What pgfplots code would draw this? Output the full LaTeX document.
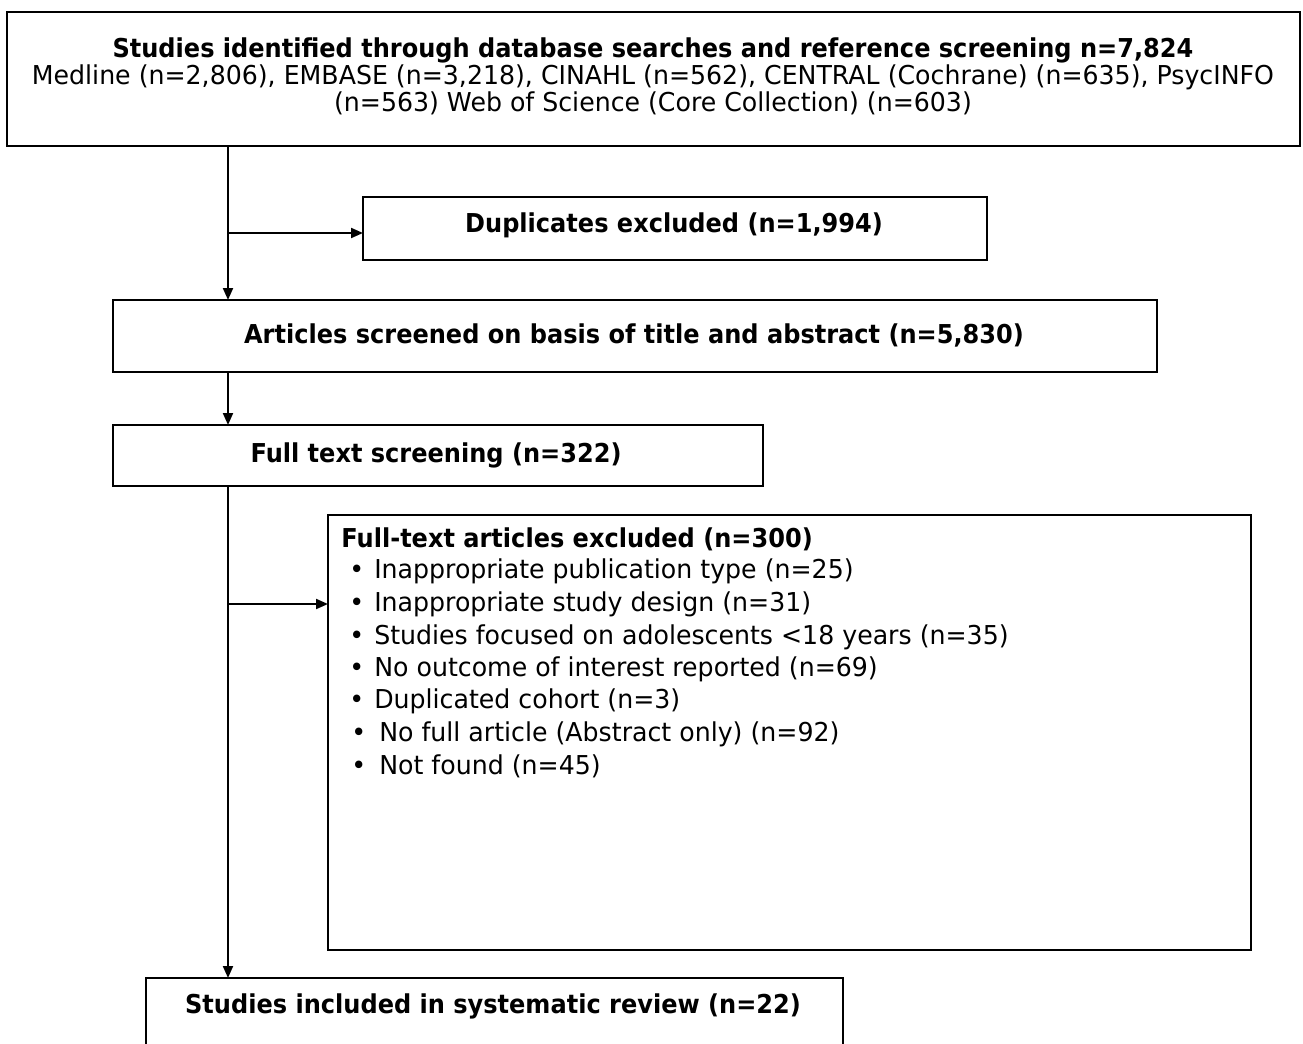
\documentclass[border=0pt]{standalone}
\usepackage{pgfplots}
\pgfplotsset{compat=1.18}
\usepackage{fontspec}
\setmainfont{DejaVu Sans}[FakeStretch=0.97, BoldFeatures={FakeStretch=0.925}]
\usetikzlibrary{arrows.meta}
\begin{document}
\begin{tikzpicture}
\begin{axis}[hide axis, scale only axis, width=651.5pt, height=522pt,
  xmin=0, xmax=1303, ymin=0, ymax=1044, y dir=reverse, clip=true]
\addplot[draw=none] coordinates {(0,0) (1303,1044)};
\tikzset{box/.style={draw=black, line width=1.3pt},
  conn/.style={draw=black, line width=1pt},
  arr/.style={conn, -{Triangle[length=6pt,width=5pt]}},
  txt/.style={inner sep=0pt, font=\fontsize{13}{13.5}\selectfont}}
% boxes
\draw[box] (axis cs:7,12) rectangle (axis cs:1300,146);
\draw[box] (axis cs:363,197) rectangle (axis cs:987,260);
\draw[box] (axis cs:113,300) rectangle (axis cs:1157,372);
\draw[box] (axis cs:113,425) rectangle (axis cs:763,486);
\draw[box] (axis cs:328,515) rectangle (axis cs:1251,950);
\draw[box] (axis cs:146,978) rectangle (axis cs:843,1060);
% connectors
\draw[arr] (axis cs:228,146) -- (axis cs:228,300);
\draw[arr] (axis cs:228,233) -- (axis cs:363,233);
\draw[arr] (axis cs:228,372) -- (axis cs:228,425);
\draw[arr] (axis cs:228,486) -- (axis cs:228,978);
\draw[arr] (axis cs:228,604) -- (axis cs:328,604);
% texts
\node[txt, align=center] at (axis cs:653,76) {\textbf{Studies identified through database searches and reference screening n=7,824}\\
Medline (n=2,806), EMBASE (n=3,218), CINAHL (n=562), CENTRAL (Cochrane) (n=635), PsycINFO\\
(n=563) Web of Science (Core Collection) (n=603)};
\node[txt] at (axis cs:674,225) {\textbf{Duplicates excluded (n=1,994)}};
\node[txt] at (axis cs:634,335) {\textbf{Articles screened on basis of title and abstract (n=5,830)}};
\node[txt] at (axis cs:436,455) {\textbf{Full text screening (n=322)}};
\node[txt, anchor=west] at (axis cs:341,539) {\textbf{Full-text articles excluded (n=300)}};
\node[txt, anchor=west] at (axis cs:349,571) {•\hspace{5pt}Inappropriate publication type (n=25)};
\node[txt, anchor=west] at (axis cs:349,604) {•\hspace{5pt}Inappropriate study design (n=31)};
\node[txt, anchor=west] at (axis cs:349,637) {•\hspace{5pt}Studies focused on adolescents <18 years (n=35)};
\node[txt, anchor=west] at (axis cs:349,669) {•\hspace{5pt}No outcome of interest reported (n=69)};
\node[txt, anchor=west] at (axis cs:349,701) {•\hspace{5pt}Duplicated cohort (n=3)};
\node[txt, anchor=west] at (axis cs:351,734) {•\hspace{6.5pt}No full article (Abstract only) (n=92)};
\node[txt, anchor=west] at (axis cs:351,766) {•\hspace{6.5pt}Not found (n=45)};
\node[txt] at (axis cs:493,1006) {\textbf{Studies included in systematic review (n=22)}};
\end{axis}
\end{tikzpicture}
\end{document}
